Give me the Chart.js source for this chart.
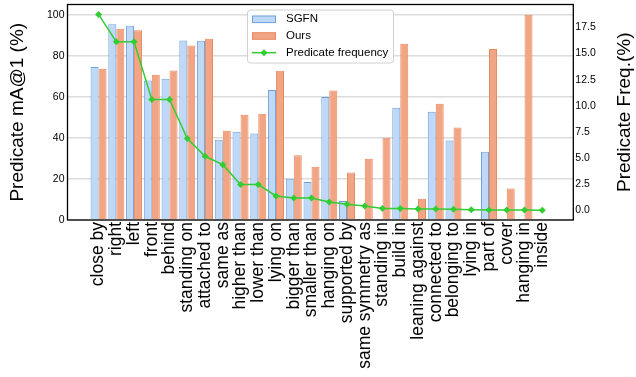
<!DOCTYPE html>
<html>
<head>
<meta charset="utf-8">
<script src="https://cdn.jsdelivr.net/npm/chart.js@4/dist/chart.umd.min.js"></script>
<style>
html, body { margin: 0; padding: 0; background: #fff; }
#wrap { width: 636px; height: 377px; }
</style>
</head>
<body>
<div id="wrap"><canvas id="myChart" width="636" height="377"></canvas></div>
<script>
// datos
var categorias = ['close by', 'right', 'left', 'front', 'behind', 'standing on', 'attached to', 'same as',
    'higher than', 'lower than', 'lying on', 'bigger than', 'smaller than', 'hanging on', 'supported by',
    'same symmetry as', 'standing in', 'build in', 'leaning against', 'connected to', 'belonging to',
    'lying in', 'part of', 'cover', 'hanging in', 'inside'];

var sgfn = [74.5, 95.4, 94.6, 68.0, 68.8, 87.5, 87.3, 39.1, 43.0, 42.1, 63.3, 20.1, 18.5, 59.9, 9.3,
    0, 0, 54.7, 0, 52.8, 38.7, 0, 33.3, 0, 0, 0];

var ours = [73.7, 93.2, 92.5, 70.8, 72.9, 85.0, 88.3, 43.5, 51.3, 51.8, 72.7, 31.6, 26.0, 63.1, 23.1,
    29.9, 40.1, 85.9, 10.4, 56.7, 45.1, 0, 83.3, 15.4, 100, 0];

var frecuencia = [18.75, 16.13, 16.13, 10.6, 10.6, 6.87, 5.17, 4.37, 2.46, 2.46, 1.37, 1.18, 1.18, 0.8, 0.57,
    0.41, 0.16, 0.16, 0.13, 0.13, 0.1, 0.06, 0.03, 0.03, 0.02, 0.01];

var ticksIzq = [0, 20, 40, 60, 80, 100];
var ticksDer = [0, 2.5, 5, 7.5, 10, 12.5, 15, 17.5];

var FUENTE = '"Liberation Sans", Arial, sans-serif';
var VERDE = 'rgb(50, 205, 50)';

function aPuntos(lista) {
    return lista.map(function (v, i) {
        return {x: i, y: v};
    });
}

// saco los paddings automaticos de las escalas
function sinPadding(scale) {
    scale.paddingTop = 0;
    scale.paddingBottom = 0;
    scale.paddingLeft = 0;
    scale.paddingRight = 0;
}

// marco, titulo derecho y leyenda dibujados a mano
var extras = {
    id: 'extras',
    afterDraw: function (chart) {
        var ctx = chart.ctx;
        var a = chart.chartArea;
        ctx.save();

        // marco del grafico
        ctx.strokeStyle = '#000';
        ctx.lineWidth = 1.3;
        ctx.strokeRect(a.left, a.top, a.right - a.left, a.bottom - a.top);

        // titulo eje derecho (se lee de abajo hacia arriba)
        ctx.fillStyle = '#000';
        ctx.font = '19px ' + FUENTE;
        ctx.textAlign = 'center';
        ctx.textBaseline = 'middle';
        ctx.translate(625, (a.top + a.bottom) / 2);
        ctx.rotate(-Math.PI / 2);
        ctx.fillText('Predicate Freq.(%)', 0, 0);
        ctx.restore();

        // leyenda
        ctx.save();
        var lx = 247.5, ly = 10, lw = 146, lh = 53;
        ctx.fillStyle = 'rgba(255,255,255,0.85)';
        ctx.strokeStyle = '#d0d0d0';
        ctx.lineWidth = 1;
        ctx.beginPath();
        ctx.roundRect(lx, ly, lw, lh, 3);
        ctx.fill();
        ctx.stroke();

        var filas = [19.3, 36, 52.7];
        ctx.lineWidth = 1;
        ctx.fillStyle = 'rgb(190, 216, 246)';
        ctx.strokeStyle = 'rgb(110, 160, 220)';
        ctx.fillRect(252.5, filas[0] - 3.3, 23, 6.6);
        ctx.strokeRect(252.5, filas[0] - 3.3, 23, 6.6);
        ctx.fillStyle = 'rgb(241, 165, 132)';
        ctx.strokeStyle = 'rgb(232, 138, 95)';
        ctx.fillRect(252.5, filas[1] - 3.3, 23, 6.6);
        ctx.strokeRect(252.5, filas[1] - 3.3, 23, 6.6);

        ctx.strokeStyle = VERDE;
        ctx.lineWidth = 1.5;
        ctx.beginPath();
        ctx.moveTo(252, filas[2]);
        ctx.lineTo(276, filas[2]);
        ctx.stroke();
        ctx.fillStyle = VERDE;
        ctx.beginPath();
        ctx.moveTo(264, filas[2] - 3.5);
        ctx.lineTo(267.5, filas[2]);
        ctx.lineTo(264, filas[2] + 3.5);
        ctx.lineTo(260.5, filas[2]);
        ctx.closePath();
        ctx.fill();

        ctx.fillStyle = '#000';
        ctx.font = '11.5px ' + FUENTE;
        ctx.textAlign = 'left';
        ctx.textBaseline = 'middle';
        ctx.fillText('SGFN', 286, filas[0]);
        ctx.fillText('Ours', 286, filas[1]);
        ctx.fillText('Predicate frequency', 286, filas[2]);
        ctx.restore();
    }
};

var ctx = document.getElementById('myChart').getContext('2d');
new Chart(ctx, {
    type: 'bar',
    data: {
        datasets: [{
                label: 'SGFN',
                data: aPuntos(sgfn),
                backgroundColor: 'rgb(190, 216, 246)',
                borderColor: 'rgb(110, 160, 220)',
                borderWidth: 1,
                categoryPercentage: 0.9,
                barPercentage: 1,
                order: 1
            },
            {
                label: 'Ours',
                data: aPuntos(ours),
                backgroundColor: 'rgb(241, 165, 132)',
                borderColor: 'rgb(232, 138, 95)',
                borderWidth: 1,
                categoryPercentage: 0.9,
                barPercentage: 1,
                order: 1
            },
            {
                type: 'line',
                label: 'Predicate frequency',
                data: aPuntos(frecuencia),
                yAxisID: 'y2',
                borderColor: VERDE,
                backgroundColor: VERDE,
                borderWidth: 1.5,
                pointStyle: 'rectRot',
                pointRadius: 3.5,
                pointBorderWidth: 0,
                tension: 0,
                fill: false,
                order: 0
            }
        ]
    },
    options: {
        responsive: false,
        animation: false,
        devicePixelRatio: 1,
        layout: {padding: {top: 4.5, left: 0, right: 0, bottom: 0}},
        plugins: {
            legend: {display: false},
            tooltip: {enabled: false}
        },
        scales: {
            x: {
                type: 'linear',
                offset: false,
                min: -1.75,
                max: 26.75,
                grid: {display: false, drawTicks: false},
                border: {display: false},
                afterBuildTicks: function (scale) {
                    scale.ticks = categorias.map(function (c, i) {
                        return {value: i};
                    });
                },
                afterFit: function (scale) {
                    scale.height = 157;
                    sinPadding(scale);
                },
                ticks: {
                    autoSkip: false,
                    minRotation: 90,
                    maxRotation: 90,
                    padding: 2,
                    color: '#000',
                    font: {family: FUENTE, size: 17.5},
                    callback: function (value) {
                        return categorias[value];
                    }
                }
            },
            y: {
                position: 'left',
                min: 0,
                max: 105,
                afterBuildTicks: function (scale) {
                    scale.ticks = ticksIzq.map(function (v) {
                        return {value: v};
                    });
                },
                afterFit: function (scale) {
                    scale.width = 67.5;
                    sinPadding(scale);
                },
                grid: {color: '#dcdcdc', lineWidth: 1.5, drawTicks: false},
                border: {display: false},
                ticks: {
                    padding: 3,
                    color: '#000',
                    font: {family: FUENTE, size: 10.5}
                },
                title: {
                    display: true,
                    text: 'Predicate mA@1 (%)',
                    color: '#000',
                    padding: {top: 6, bottom: 0},
                    font: {family: FUENTE, size: 19}
                }
            },
            y2: {
                position: 'right',
                min: -0.93,
                max: 19.7,
                afterBuildTicks: function (scale) {
                    scale.ticks = ticksDer.map(function (v) {
                        return {value: v};
                    });
                },
                afterFit: function (scale) {
                    scale.width = 62.7;
                    sinPadding(scale);
                },
                grid: {display: false, drawTicks: false},
                border: {display: false},
                ticks: {
                    padding: 2,
                    color: '#000',
                    font: {family: FUENTE, size: 10.5},
                    callback: function (value) {
                        return value.toFixed(1);
                    }
                }
            }
        }
    },
    plugins: [extras]
});
</script>
</body>
</html>
